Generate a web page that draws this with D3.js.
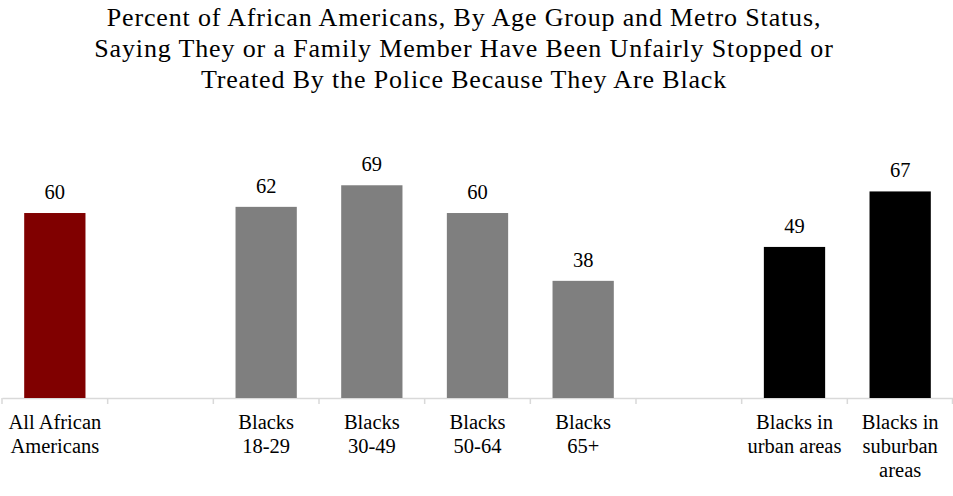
<!DOCTYPE html>
<html>
<head>
<meta charset="utf-8">
<script src="https://cdn.jsdelivr.net/npm/d3@7"></script>
<style>
  body { margin: 0; background: #fff; }
</style>
</head>
<body>
<div id="chart"></div>
<script>
// data
const slots = ["all", "gap1", "18-29", "30-49", "50-64", "65+", "gap2", "urban", "suburban"]
const categories = ["all", "18-29", "30-49", "50-64", "65+", "urban", "suburban"]
const values = [60, 62, 69, 60, 38, 49, 67]
const barColors = ["#800000", "#7f7f7f", "#7f7f7f", "#7f7f7f", "#7f7f7f", "#000000", "#000000"]
const tickLabels = {
  "all": ["All African", "Americans"],
  "18-29": ["Blacks", "18-29"],
  "30-49": ["Blacks", "30-49"],
  "50-64": ["Blacks", "50-64"],
  "65+": ["Blacks", "65+"],
  "urban": ["Blacks in", "urban areas"],
  "suburban": ["Blacks in", "suburban", "areas"],
}
const titleLines = [
  "Percent of African Americans, By Age Group and Metro Status,",
  "Saying They or a Family Member Have Been Unfairly Stopped or",
  "Treated By the Police Because They Are Black",
]

const fontStack = "'Liberation Serif', 'DejaVu Serif', 'Noto Serif', 'Times New Roman', serif"

const dataset = categories.map((c, i) => ({ cat: c, value: values[i], color: barColors[i] }))

// dimensions
let dimensions = {
  width: 953,
  height: 496,
  margin: { top: 88, right: 0, bottom: 98, left: 2 },
}
dimensions.boundedWidth = dimensions.width - dimensions.margin.left - dimensions.margin.right
dimensions.boundedHeight = dimensions.height - dimensions.margin.top - dimensions.margin.bottom

const wrapper = d3.select("#chart")
  .append("svg")
    .attr("width", dimensions.width)
    .attr("height", dimensions.height)
    .style("font-family", fontStack)

// title
wrapper.append("g")
  .selectAll("text")
  .data(titleLines)
  .join("text")
    .attr("x", 464)
    .attr("y", (d, i) => 26 + i * 30.8)
    .attr("text-anchor", "middle")
    .style("font-family", fontStack)
    .style("font-size", "26px")
    .style("letter-spacing", "0.85px")
    .text(d => d)

const bounds = wrapper.append("g")
  .attr("transform", `translate(${dimensions.margin.left},${dimensions.margin.top})`)

// scales
const xScale = d3.scaleBand()
  .domain(slots)
  .range([0, dimensions.boundedWidth])
  .padding(0)

const yScale = d3.scaleLinear()
  .domain([0, 100])
  .range([dimensions.boundedHeight, dimensions.boundedHeight - 308.3])

const barWidth = xScale.bandwidth() * 0.58

// axis
const xAxisGenerator = d3.axisBottom(xScale)
  .tickSizeInner(0)
  .tickSizeOuter(0)
  .tickFormat("")

const xAxis = bounds.append("g")
  .attr("transform", `translate(0,${dimensions.boundedHeight})`)
  .call(xAxisGenerator)
  .attr("font-family", null)

xAxis.select(".domain").attr("stroke", "#d9d9d9").attr("stroke-width", 1.5)

// tick marks on slot boundaries
xAxis.selectAll(".tick line")
  .attr("x1", -xScale.bandwidth() / 2)
  .attr("x2", -xScale.bandwidth() / 2)
  .attr("y2", 6)
  .attr("stroke", "#d9d9d9")
  .attr("stroke-width", 1.5)

xAxis.append("line")
  .attr("x1", dimensions.boundedWidth - 0.5)
  .attr("x2", dimensions.boundedWidth - 0.5)
  .attr("y2", 6)
  .attr("stroke", "#d9d9d9")
  .attr("stroke-width", 1.5)

// wrapped category labels
xAxis.selectAll(".tick").each(function(d) {
  const lines = tickLabels[d] || []
  const t = d3.select(this).select("text")
    .attr("y", 0)
    .attr("dy", null)
    .style("font-family", fontStack)
    .style("font-size", "20.5px")
    .attr("fill", "#000")
  t.selectAll("tspan")
    .data(lines)
    .join("tspan")
      .attr("x", 0)
      .attr("y", (l, i) => 31 + i * 24)
      .text(l => l)
})

// bars
bounds.selectAll(".bar")
  .data(dataset)
  .join("rect")
    .attr("class", "bar")
    .attr("x", d => xScale(d.cat) + (xScale.bandwidth() - barWidth) / 2)
    .attr("y", d => yScale(d.value))
    .attr("width", barWidth)
    .attr("height", d => dimensions.boundedHeight - yScale(d.value))
    .attr("fill", d => d.color)

// value labels
bounds.selectAll(".value")
  .data(dataset)
  .join("text")
    .attr("class", "value")
    .attr("x", d => xScale(d.cat) + xScale.bandwidth() / 2)
    .attr("y", d => yScale(d.value) - 14)
    .attr("text-anchor", "middle")
    .style("font-family", fontStack)
    .style("font-size", "20.5px")
    .text(d => d.value)
</script>
</body>
</html>
